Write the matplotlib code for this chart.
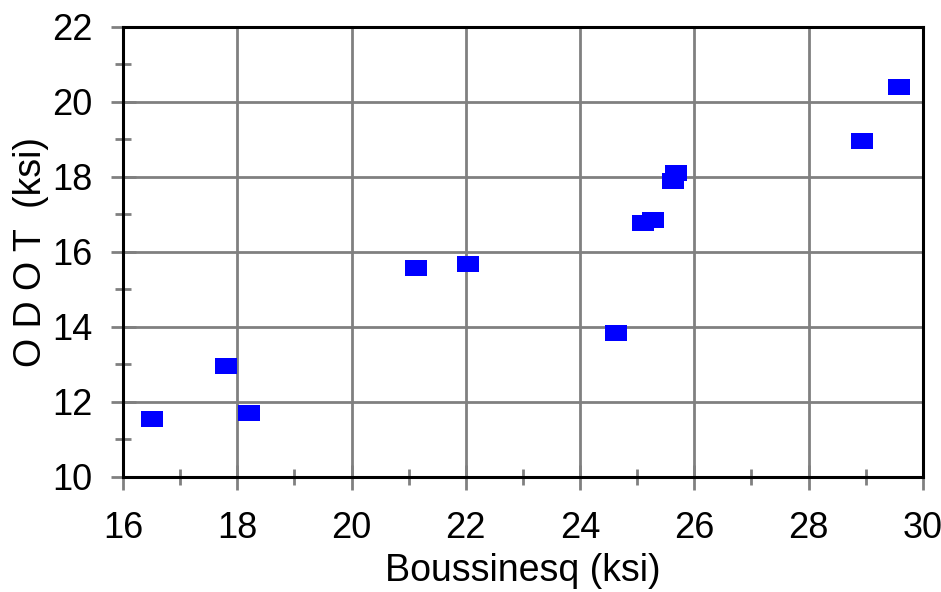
import matplotlib
matplotlib.use("Agg")
import matplotlib.pyplot as plt
from matplotlib.ticker import MultipleLocator

# ---------------- DATA ----------------
boussinesq = [16.51, 17.80, 18.21, 21.13, 22.04, 24.63, 25.10, 25.28, 25.63, 25.68, 28.93, 29.58]
odot = [11.54, 12.95, 11.70, 15.57, 15.67, 13.82, 16.77, 16.85, 17.89, 18.10, 18.95, 20.38]

x_label = "Boussinesq (ksi)"
y_label = "O D O T  (ksi)"

# ---------------- PLOT ----------------
plt.rcParams['font.family'] = ['Liberation Sans', 'DejaVu Sans']

fig = plt.figure(figsize=(9.41, 5.92), dpi=100)
ax = fig.add_axes([0.1307, 0.1948, 0.85, 0.7601])

# flat rectangle marker (wider than tall)
rect = [(-1, -0.72), (1, -0.72), (1, 0.72), (-1, 0.72), (-1, -0.72)]
ax.plot(boussinesq, odot, linestyle='none', marker=rect, markersize=15.8,
        color='#0000ff', markeredgewidth=0, zorder=3)

ax.set_xlim(16, 30)
ax.set_ylim(10, 22)
ax.xaxis.set_major_locator(MultipleLocator(2))
ax.xaxis.set_minor_locator(MultipleLocator(1))
ax.yaxis.set_major_locator(MultipleLocator(2))
ax.yaxis.set_minor_locator(MultipleLocator(1))

ax.grid(True, which='major', color='#808080', linewidth=2.0, zorder=1)
ax.set_axisbelow(True)

for s in ax.spines.values():
    s.set_linewidth(2.2)
    s.set_color('black')

ax.tick_params(which='major', direction='inout', length=18, width=2.0,
               color='#808080', labelsize=26)
ax.tick_params(axis='x', which='major', pad=16)
ax.tick_params(axis='y', which='major', pad=13)
ax.tick_params(which='minor', direction='inout', length=12, width=2.0,
               color='#808080')
ax.tick_params(top=False, right=False, which='both')

ax.set_xlabel(x_label, fontsize=27, labelpad=5)
ax.set_ylabel(y_label, fontsize=27, labelpad=2)

plt.savefig("out.png", dpi=100)
